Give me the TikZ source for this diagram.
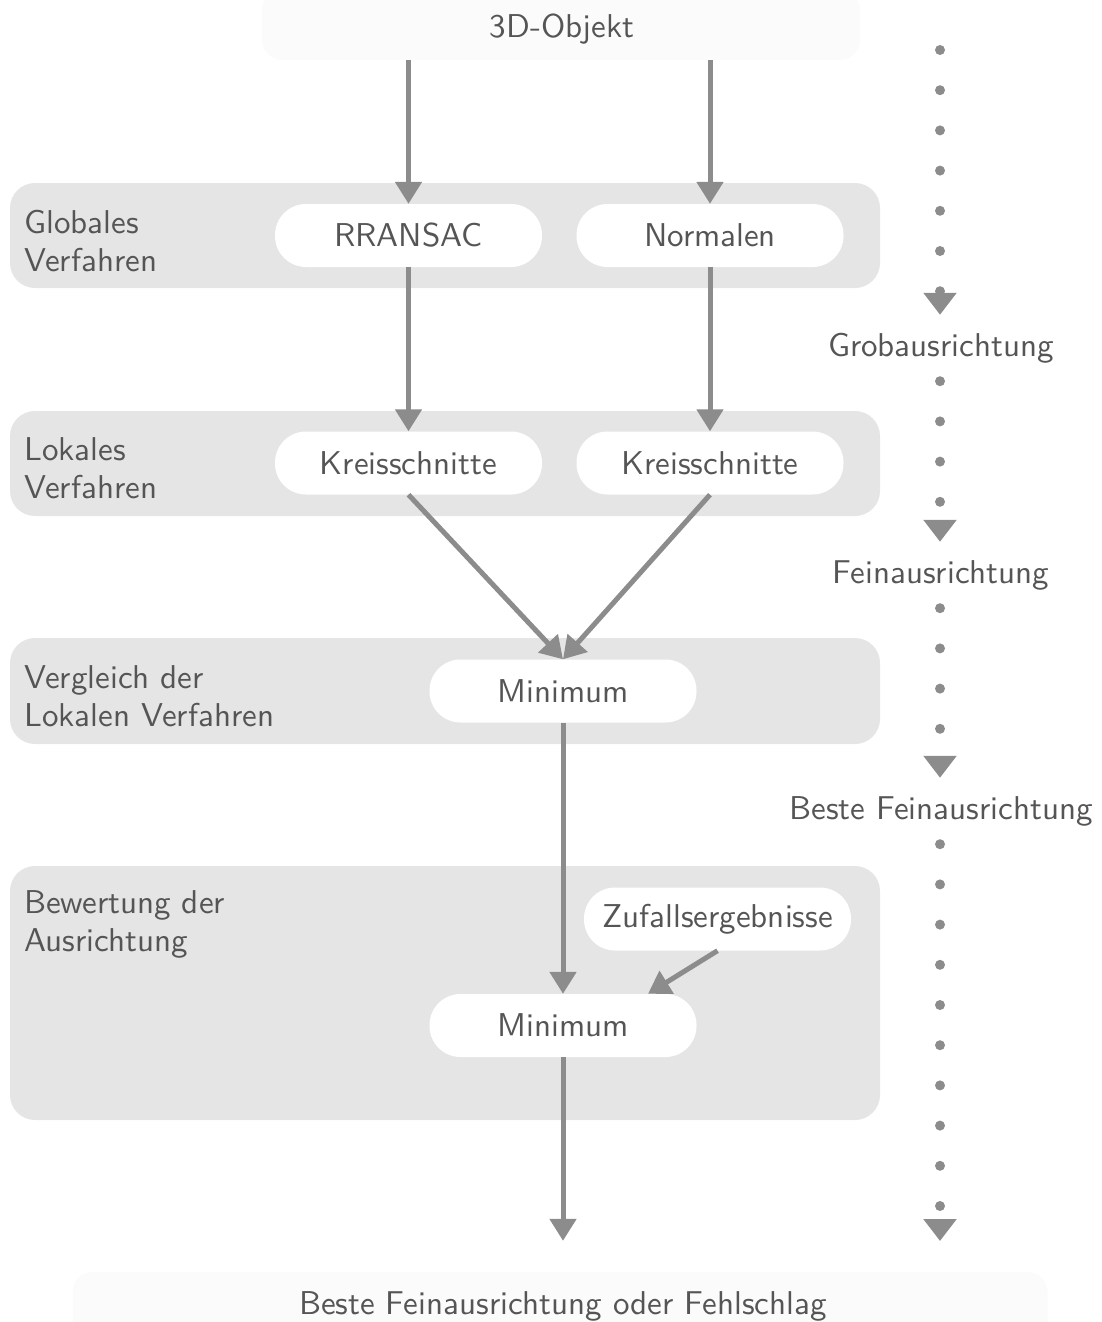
\documentclass[tikz,border=0pt]{standalone}
\usepackage{fontspec}
\setsansfont{lmsans10-regular}[Extension=.otf]
\usetikzlibrary{arrows.meta,calc}
\definecolor{txtgray}{HTML}{555555}
\definecolor{arrgray}{HTML}{8C8C8C}
\definecolor{bandgray}{HTML}{E5E5E5}
\definecolor{faint}{HTML}{FBFBFB}
\tikzset{
  every node/.style={text=txtgray, font=\fontsize{33}{38}\selectfont\sffamily},
  band/.style={fill=bandgray, rounded corners=25pt, inner sep=0pt},
  pill/.style={fill=white, rounded corners=31pt, minimum width=267pt, minimum height=63pt, inner sep=0pt},
  endbox/.style={fill=faint, rounded corners=20pt, inner sep=0pt},
  bandlabel/.style={anchor=west, align=left, inner sep=0pt},
  sidelabel/.style={inner sep=0pt, minimum height=66pt},
  arr/.style={draw=arrgray, line width=5pt, -{Triangle[width=26pt,length=22pt]}},
  dotarr/.style={draw=arrgray, line width=10pt, line cap=round, dash pattern=on 0pt off 40.2pt, -{Triangle[width=32pt,length=22pt,line cap=butt]}}
}
\begin{document}
\begin{tikzpicture}[x=1pt,y=-1pt]
\useasboundingbox (0,0) rectangle (1102,1322);
% top and bottom boxes
\node[endbox, minimum width=598pt, minimum height=70pt] (obj) at (561,25) {};
\node[inner sep=0pt] (objtxt) at (562,29) {3D-Objekt};
\node[endbox, minimum width=975pt, minimum height=80pt] (final) at (560,1312) {};
\node[inner sep=0pt] (finaltxt) at (563,1306) {Beste Feinausrichtung oder Fehlschlag};
% bands
\node[band, minimum width=870pt, minimum height=105pt] (b1) at (445,235.5) {};
\node[band, minimum width=870pt, minimum height=105pt] (b2) at (445,463.5) {};
\node[band, minimum width=870pt, minimum height=106pt] (b3) at (445,691) {};
\node[band, minimum width=870pt, minimum height=254pt] (b4) at (445,993) {};
% band labels
\node[bandlabel] (l1) at (24,241) {Globales\\Verfahren};
\node[bandlabel] (l2) at (24,468) {Lokales\\Verfahren};
\node[bandlabel] (l3) at (24,696) {Vergleich der\\Lokalen Verfahren};
\node[bandlabel] (l4) at (24,924) {Bewertung der\\Ausrichtung};
% pills
\node[pill] (rransac) at (408.5,235.5) {RRANSAC};
\node[pill] (normalen) at (710,235.5) {Normalen};
\node[pill] (kreis1) at (408.5,463) {Kreisschnitte};
\node[pill] (kreis2) at (710,463) {Kreisschnitte};
\node[pill] (min1) at (563,691) {Minimum};
\node[pill] (zufall) at (717.5,919) {Zufallsergebnisse};
\node[pill] (min2) at (563,1025.5) {Minimum};
% connectors
\draw[arr] (obj.south -| rransac) -- (rransac);
\draw[arr] (obj.south -| normalen) -- (normalen);
\draw[arr] (rransac) -- (kreis1);
\draw[arr] (normalen) -- (kreis2);
\draw[arr] (kreis1.south) -- (min1.north);
\draw[arr] (kreis2.south) -- (min1.north);
\draw[arr] (min1) -- (min2);
\draw[arr] (zufall.south) -- ($(min2.north)+(85,0)$);
\draw[arr, shorten >=31pt] (min2) -- (min2 |- final.north);
% right column
\coordinate (r0) at (940,50);
\node[sidelabel] (grob) at (941,348) {Grobausrichtung};
\node[sidelabel] (fein) at (941,575) {Feinausrichtung};
\node[sidelabel] (beste) at (941,811) {Beste Feinausrichtung};
\coordinate (r4) at (940,1241);
\draw[dotarr] (r0) -- (r0 |- grob.north);
\draw[dotarr] (grob.south -| r0) -- (r0 |- fein.north);
\draw[dotarr] (fein.south -| r0) -- (r0 |- beste.north);
\draw[dotarr] (beste.south -| r0) -- (r4);
\end{tikzpicture}
\end{document}
